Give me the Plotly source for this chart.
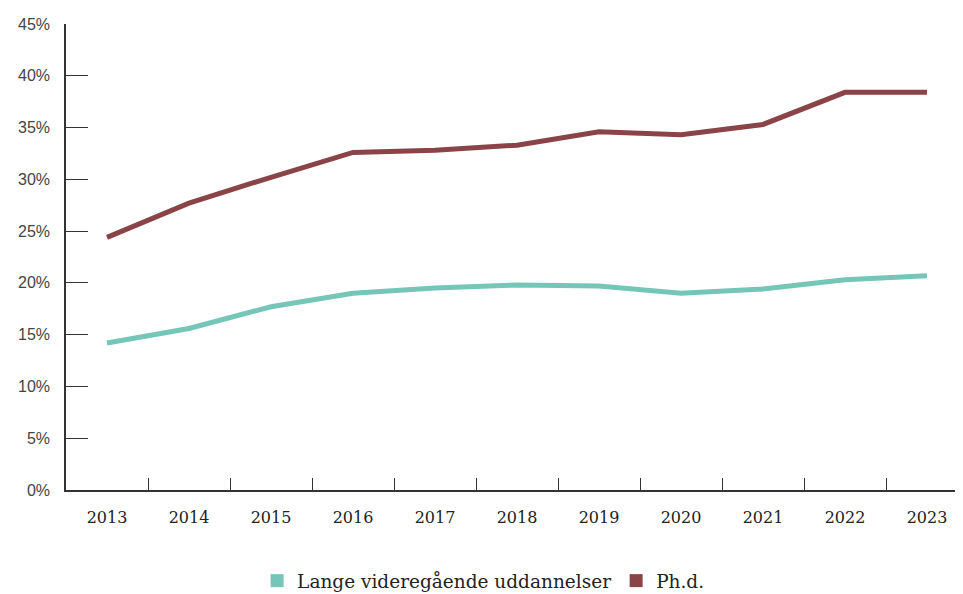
import plotly.graph_objects as go

years = ["2013", "2014", "2015", "2016", "2017", "2018", "2019", "2020", "2021", "2022", "2023"]
lange = [14.2, 15.6, 17.7, 19.0, 19.5, 19.8, 19.7, 19.0, 19.4, 20.3, 20.7]
phd = [24.4, 27.7, 30.2, 32.6, 32.8, 33.3, 34.6, 34.3, 35.3, 38.4, 38.4]
series_names = ["Lange videregående uddannelser", "Ph.d."]
colors = ["#76c5b9", "#8a4447"]
y_ticks = [0, 5, 10, 15, 20, 25, 30, 35, 40, 45]

SERIF = "DejaVu Serif"
SANS = "Liberation Sans"
fig = go.Figure()
for name, vals, col in zip(series_names, [lange, phd], colors):
    fig.add_trace(go.Scatter(x=years, y=vals, mode="lines", name=name,
                             line=dict(color=col, width=5), showlegend=False,
                             hovertemplate="%{x}: %{y:.1f}%<extra>" + name + "</extra>"))
for name, col in zip(series_names, colors):
    fig.add_trace(go.Scatter(x=[None], y=[None], mode="markers", name=name,
                             marker=dict(color=col, symbol="square", size=13)))

fig.update_layout(
    width=955, height=586,
    margin=dict(l=58, r=0, t=16, b=104, autoexpand=False),
    paper_bgcolor="white", plot_bgcolor="white",
    font=dict(family=SERIF, size=15, color="#333333"),
    showlegend=True,
    legend=dict(orientation="h", x=0.465, xanchor="center", yref="container", y=0.022, yanchor="middle",
                font=dict(family=SERIF, size=18.5, color="#222222"),
                itemwidth=30, tracegroupgap=0),
    xaxis=dict(type="category", range=[-0.5, 10.439], showgrid=False,
               showline=True, linecolor="#333333", linewidth=1.5,
               ticks="inside", tickson="boundaries", ticklen=12, tickcolor="#333333",
               tickwidth=1.2, tickfont=dict(family=SERIF, size=16, color="#222222"),
               ticklabelstandoff=12, fixedrange=True),
    yaxis=dict(range=[0, 45], tickvals=y_ticks, ticktext=[f"{v}%" for v in y_ticks],
               showgrid=False, zeroline=False, showline=True, linecolor="#333333", linewidth=1.5,
               ticks="inside", ticklen=22, tickcolor="#333333", tickwidth=1.2,
               tickfont=dict(family=SANS, size=16, color="#444444"),
               ticklabelstandoff=11, fixedrange=True),
)

fig.write_html("out.html")
